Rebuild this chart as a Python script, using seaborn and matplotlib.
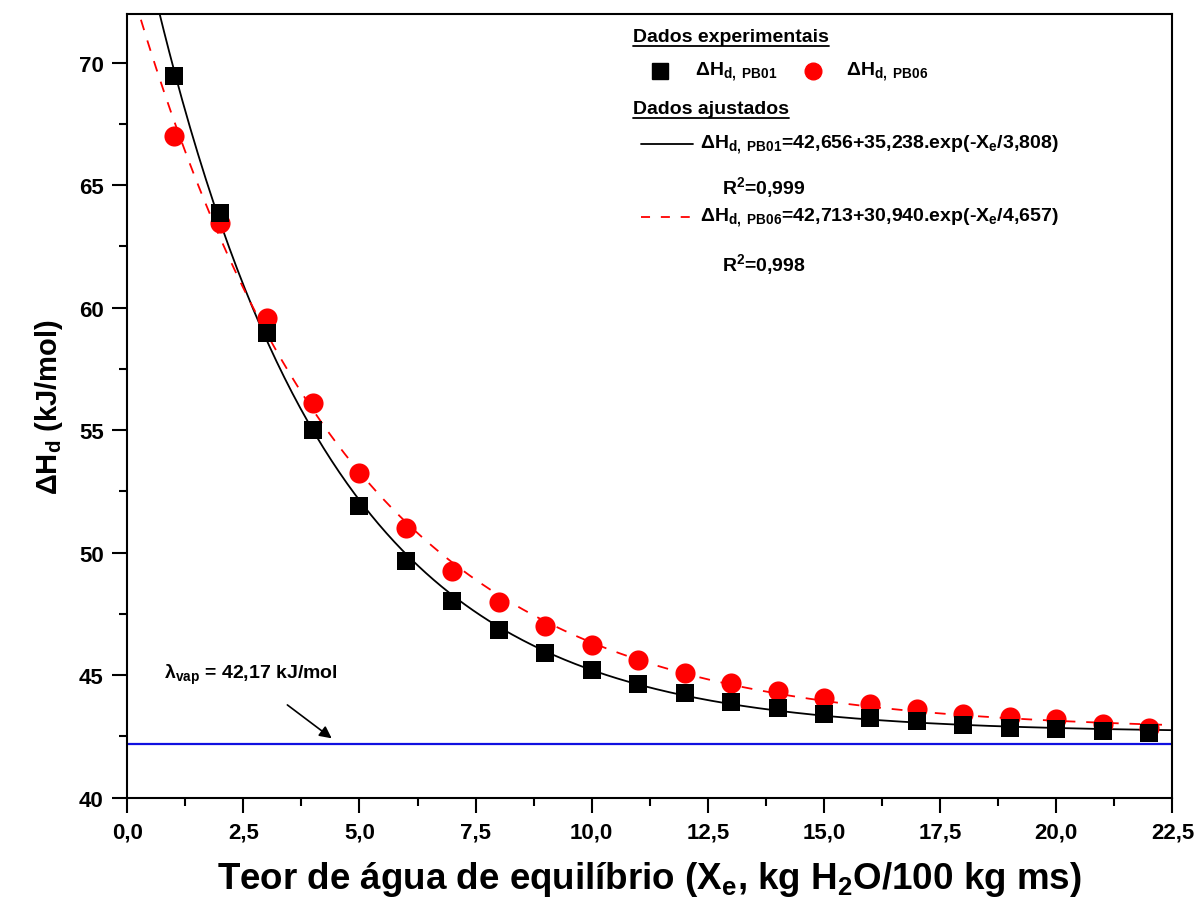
import numpy as np
import pandas as pd
import matplotlib
matplotlib.use("Agg")
import matplotlib.pyplot as plt
import seaborn as sns
from matplotlib.ticker import MultipleLocator, FuncFormatter
from matplotlib.lines import Line2D

# ---- data ----
x_moisture = [1, 2, 3, 4, 5, 6, 7, 8, 9, 10, 11, 12, 13, 14, 15, 16, 17, 18, 19, 20, 21, 22]
dh_pb01 = [69.47, 63.87, 58.97, 55.00, 51.90, 49.65, 48.01, 46.83, 45.89, 45.19, 44.62,
           44.25, 43.89, 43.64, 43.40, 43.23, 43.11, 42.95, 42.82, 42.78, 42.70, 42.62]
dh_pb06 = [67.02, 63.46, 59.58, 56.11, 53.24, 51.00, 49.24, 47.97, 46.99, 46.22, 45.60,
           45.07, 44.66, 44.34, 44.05, 43.80, 43.60, 43.40, 43.27, 43.19, 42.99, 42.86]
# fitted model parameters (as printed on the chart)
fit_pb01 = (42.656, 35.238, 3.808)
fit_pb06 = (42.713, 30.940, 4.657)
lambda_vap = 42.17
xticks = [0, 2.5, 5, 7.5, 10, 12.5, 15, 17.5, 20, 22.5]
yticks = [40, 45, 50, 55, 60, 65, 70]

sns.set_theme(style="white")
plt.rcParams['font.family'] = ['Liberation Sans', 'DejaVu Sans']
plt.rcParams['font.weight'] = 'bold'
plt.rcParams['text.color'] = 'black'
plt.rcParams['axes.labelcolor'] = 'black'
plt.rcParams['xtick.color'] = 'black'
plt.rcParams['ytick.color'] = 'black'
plt.rcParams['mathtext.fontset'] = 'custom'
plt.rcParams['mathtext.rm'] = 'Liberation Sans:bold'
plt.rcParams['mathtext.it'] = 'Liberation Sans:bold'
plt.rcParams['mathtext.bf'] = 'Liberation Sans:bold'
plt.rcParams['mathtext.default'] = 'bf'

fig = plt.figure(figsize=(12, 9.2), dpi=100)
ax = fig.add_axes([0.106, 0.132, 0.871, 0.852])

df = pd.DataFrame({"x": x_moisture, "pb01": dh_pb01, "pb06": dh_pb06})

xf = np.linspace(0.0, 22.5, 400)
def model(p, x):
    return p[0] + p[1] * np.exp(-x / p[2])
fit_df = pd.DataFrame({"x": xf, "f01": model(fit_pb01, xf), "f06": model(fit_pb06, xf)})

sns.lineplot(data=fit_df, x="x", y="f01", ax=ax, color="black", lw=1.3, sort=False, estimator=None)
sns.lineplot(data=fit_df, x="x", y="f06", ax=ax, color="red", lw=1.3, sort=False, estimator=None,
             linestyle=(0, (6, 6)))
ax.axhline(lambda_vap, color="#1010e0", lw=1.6, zorder=1)

sns.scatterplot(data=df, x="x", y="pb06", ax=ax, color="red", marker="o", s=210,
                edgecolor="red", linewidth=0, zorder=3)
sns.scatterplot(data=df, x="x", y="pb01", ax=ax, color="black", marker="s", s=180,
                edgecolor="black", linewidth=0, zorder=4)

ax.set_xlim(0, 22.5)
ax.set_ylim(40, 72)
ax.set_xticks(xticks)
ax.set_yticks(yticks)
ax.xaxis.set_minor_locator(MultipleLocator(1.25))
ax.yaxis.set_minor_locator(MultipleLocator(2.5))
ax.xaxis.set_major_formatter(FuncFormatter(lambda v, p: f"{v:.1f}".replace(".", ",")))
ax.tick_params(axis="both", which="major", direction="out", length=11, width=1.5,
               labelsize=16, bottom=True, left=True, top=False, right=False, pad=6)
ax.tick_params(axis="both", which="minor", direction="out", length=6, width=1.5,
               bottom=True, left=True, top=False, right=False)
for lab in ax.get_xticklabels() + ax.get_yticklabels():
    lab.set_fontweight("bold")
for s in ax.spines.values():
    s.set_color("black")
    s.set_linewidth(1.5)

ax.set_xlabel(r"Teor de água de equilíbrio (X$_e$, kg H$_2$O/100 kg ms)", fontsize=26.5,
              fontweight="bold", labelpad=12)
ax.set_ylabel(r"$\Delta$H$_d$ (kJ/mol)", fontsize=21, fontweight="bold", labelpad=10)

# annotation for lambda_vap
ax.annotate("", xy=(4.45, 42.35), xytext=(3.4, 43.85),
            arrowprops=dict(arrowstyle="-|>", color="black", lw=1.2, mutation_scale=18))
ax.text(0.8, 45.05, r"$\lambda_{vap}$ = 42,17 kJ/mol", fontsize=14, fontweight="bold",
        va="center", ha="left")

# custom legend block (axes fraction coordinates)
def px2ax(px, py):
    x0, x1, y0, y1 = 127, 1172, 799, 15
    return (px - x0) / (x1 - x0), (y0 - py) / (y0 - y1)

fs = 14
kw = dict(transform=ax.transAxes, fontsize=fs, fontweight="bold", va="center", ha="left")
t1 = ax.text(*px2ax(633, 38), "Dados experimentais", **kw)
ax.plot(*px2ax(660, 72), marker="s", ms=11, color="black", transform=ax.transAxes, clip_on=False)
ax.text(*px2ax(695, 72), r"$\Delta$H$_{d,\ PB01}$", **kw)
ax.plot(*px2ax(813, 72), marker="o", ms=12, color="red", transform=ax.transAxes, clip_on=False)
ax.text(*px2ax(846, 72), r"$\Delta$H$_{d,\ PB06}$", **kw)
t2 = ax.text(*px2ax(633, 110), "Dados ajustados", **kw)

a, b = px2ax(641, 145), px2ax(693, 145)
ax.add_line(Line2D([a[0], b[0]], [a[1], b[1]], color="black", lw=1.3, transform=ax.transAxes))
ax.text(*px2ax(700, 145), r"$\Delta$H$_{d,\ PB01}$=42,656+35,238.exp(-X$_e$/3,808)", **kw)
ax.text(*px2ax(722, 188), r"R$^2$=0,999", **kw)
a, b = px2ax(641, 218), px2ax(693, 218)
ax.add_line(Line2D([a[0], b[0]], [a[1], b[1]], color="red", lw=1.3, linestyle=(0, (5, 6)),
                   transform=ax.transAxes))
ax.text(*px2ax(700, 218), r"$\Delta$H$_{d,\ PB06}$=42,713+30,940.exp(-X$_e$/4,657)", **kw)
ax.text(*px2ax(722, 265), r"R$^2$=0,998", **kw)

# underline the two headings
fig.canvas.draw()
r = fig.canvas.get_renderer()
inv = ax.transAxes.inverted()
for t in (t1, t2):
    bb = t.get_window_extent(r)
    (ux0, uy), (ux1, _) = inv.transform([(bb.x0, bb.y0 - 1), (bb.x1, bb.y0 - 1)])
    ax.add_line(Line2D([ux0, ux1], [uy, uy], color="black", lw=1.3, transform=ax.transAxes))

fig.savefig("out.png", dpi=100, facecolor="white")
